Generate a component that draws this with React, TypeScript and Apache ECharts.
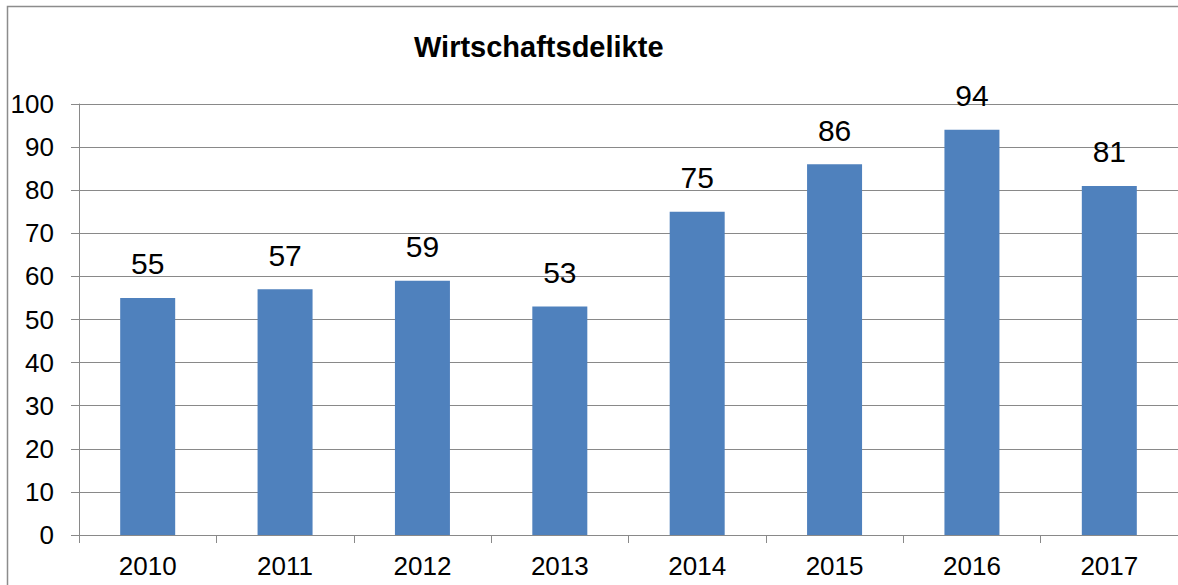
import React, { useEffect, useRef } from "react";
import * as echarts from "echarts";

const categories = ["2010", "2011", "2012", "2013", "2014", "2015", "2016", "2017"];
const values = [55, 57, 59, 53, 75, 86, 94, 81];
const titleText = "Wirtschaftsdelikte";
const yMin = 0;
const yMax = 100;
const yInterval = 10;

const FONT = "'Liberation Sans', Arial, sans-serif";
const GRID_COLOR = "#898989";

export default function App() {
  const ref = useRef<HTMLDivElement>(null);
  useEffect(() => {
    if (!ref.current) return;
    const chart = echarts.init(ref.current, undefined, { renderer: "svg" });
    chart.setOption({
      animation: false,
      backgroundColor: "#ffffff",
      textStyle: { fontFamily: FONT },
      title: {
        text: titleText,
        left: 414,
        top: 32,
        padding: 0,
        textStyle: { fontFamily: FONT, fontSize: 29, fontWeight: "bold", color: "#000" },
      },
      graphic: [
        {
          type: "rect",
          shape: { x: 7.5, y: 6.5, width: 1300, height: 700 },
          style: { fill: "none", stroke: "#8c8c8c", lineWidth: 1.5 },
          silent: true,
          z: -10,
        },
      ],
      grid: { left: 79, right: -5, top: 104, bottom: 50, containLabel: false },
      xAxis: {
        type: "category",
        data: categories,
        axisLine: { show: true, lineStyle: { color: GRID_COLOR, width: 1 } },
        axisTick: { show: true, alignWithLabel: false, length: 8, lineStyle: { color: GRID_COLOR } },
        axisLabel: { fontFamily: FONT, fontSize: 26, color: "#000", margin: 18 },
        splitLine: { show: false },
      },
      yAxis: {
        type: "value",
        min: yMin,
        max: yMax,
        interval: yInterval,
        axisLine: { show: true, lineStyle: { color: GRID_COLOR, width: 1 } },
        axisTick: { show: true, length: 8, lineStyle: { color: GRID_COLOR } },
        axisLabel: { fontFamily: FONT, fontSize: 26, color: "#000", margin: 25 },
        splitLine: { show: true, lineStyle: { color: GRID_COLOR, width: 1 } },
      },
      series: [
        {
          type: "bar",
          data: values,
          barWidth: 55,
          itemStyle: { color: "#4F81BD" },
          label: {
            show: true,
            position: "top",
            distance: 19,
            fontFamily: FONT,
            fontSize: 30,
            color: "#000",
          },
        },
      ],
    });
    return () => chart.dispose();
  }, []);
  return (
    <div
      ref={ref}
      style={{ position: "absolute", left: 0, top: 0, width: 1178, height: 585 }}
    />
  );
}
